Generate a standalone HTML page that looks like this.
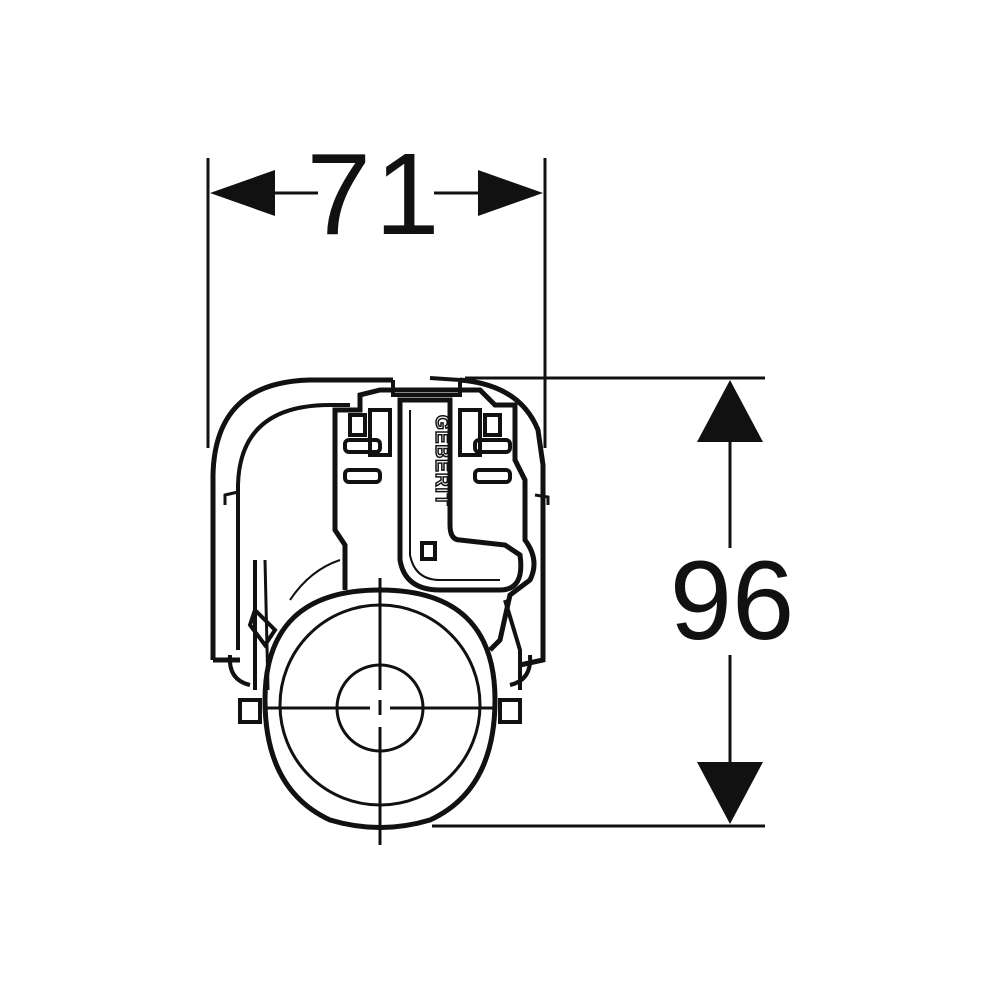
<!DOCTYPE html>
<html><head><style>html,body{margin:0;padding:0;background:#fff}svg{display:block}</style></head>
<body>
<svg width="1000" height="1000" viewBox="0 0 1000 1000" xmlns="http://www.w3.org/2000/svg">
<g stroke="#111" fill="none" stroke-linecap="butt">
<line x1="208" y1="158" x2="208" y2="448" stroke-width="3"/>
<line x1="545" y1="158" x2="545" y2="448" stroke-width="3"/>
<line x1="270" y1="193" x2="318" y2="193" stroke-width="3"/>
<line x1="434" y1="193" x2="482" y2="193" stroke-width="3"/>
<polygon points="210,193 275,170 275,216" fill="#111" stroke="none"/>
<polygon points="543,193 478,170 478,216" fill="#111" stroke="none"/>
<line x1="465" y1="378" x2="765" y2="378" stroke-width="3"/>
<line x1="432" y1="826" x2="765" y2="826" stroke-width="3"/>
<line x1="730" y1="440" x2="730" y2="548" stroke-width="3"/>
<line x1="730" y1="655" x2="730" y2="765" stroke-width="3"/>
<polygon points="730,380 697,442 763,442" fill="#111" stroke="none"/>
<polygon points="730,824 697,762 763,762" fill="#111" stroke="none"/>

<path d="M213,660 L213,475 Q215,382 310,380 L393,380" stroke-width="5"/>
<path d="M238,650 L238,485 Q240,405 330,405 L350,405" stroke-width="4"/>
<path d="M213,660 L240,660" stroke-width="5"/>
<path d="M393,380 L393,395 L460,395 L460,380 L430,378" stroke-width="4"/>
<path d="M460,380 Q520,385 538,430 L543,465 L543,660 L520,665" stroke-width="5"/>
<path d="M225,505 L225,495 L238,492" stroke-width="3"/>
<path d="M535,495 L548,497 L548,505" stroke-width="3"/>
<rect x="240" y="700" width="20" height="22" stroke-width="4"/>
<rect x="500" y="700" width="20" height="22" stroke-width="4"/>
<path d="M230,655 Q228,680 250,685" stroke-width="4"/>
<path d="M530,655 Q532,680 510,685" stroke-width="4"/>
<path d="M335,455 L335,410 L360,410 L360,395 L380,390 L480,390 L495,405 L515,405 L515,460 L525,480 L525,540 Q540,560 530,580 L510,595 L500,640 L490,650" stroke-width="5"/>
<path d="M335,455 L335,530 L345,545 L345,590" stroke-width="5"/>
<path d="M400,400 L400,560 Q405,590 440,590 L500,590 Q525,590 520,555 L505,545 L460,540 Q450,540 450,525 L450,400 Z" stroke-width="5"/>
<path d="M410,410 L410,555 Q415,580 440,580 L500,580" stroke-width="2"/>
<g stroke-width="4">
<rect x="345" y="440" width="35" height="12" rx="4"/>
<rect x="345" y="470" width="35" height="12" rx="4"/>
<rect x="475" y="440" width="35" height="12" rx="4"/>
<rect x="475" y="470" width="35" height="12" rx="4"/>
<rect x="350" y="415" width="15" height="20"/>
<rect x="370" y="410" width="20" height="45"/>
<rect x="460" y="410" width="20" height="45"/>
<rect x="485" y="415" width="15" height="20"/>
<rect x="422" y="543" width="13" height="16"/>
</g>
<text x="0" y="0" transform="translate(436,415) rotate(90)" font-family="Liberation Sans, sans-serif" font-size="19" font-weight="bold" fill="none" stroke="#111" stroke-width="1.5" letter-spacing="1">GEBERIT</text>
<path d="M255,560 L255,690" stroke-width="4"/>
<path d="M265,560 L268,690" stroke-width="3"/>
<path d="M255,610 L275,630 L265,645 L250,625 Z" stroke-width="4"/>
<path d="M290,600 Q310,570 340,560" stroke-width="2"/>
<path d="M505,600 L520,650 L520,690" stroke-width="4"/>
<path d="M265,700 Q265,590 380,590 Q495,590 495,700 Q495,790 430,820 Q380,835 330,820 Q265,790 265,700 Z" stroke-width="5"/>
<circle cx="380" cy="705" r="100" stroke-width="3"/>
<circle cx="380" cy="708" r="43" stroke-width="3"/>
<line x1="380" y1="578" x2="380" y2="690" stroke-width="3"/>
<line x1="380" y1="727" x2="380" y2="845" stroke-width="3"/>
<line x1="267" y1="708" x2="370" y2="708" stroke-width="3"/>
<line x1="390" y1="708" x2="493" y2="708" stroke-width="3"/>
<line x1="380" y1="700" x2="380" y2="715" stroke-width="3"/>
</g>
<text x="375" y="234" text-anchor="middle" font-family="Liberation Sans, sans-serif" font-size="116" fill="#111" letter-spacing="4">71</text>
<text x="732" y="639" text-anchor="middle" font-family="Liberation Sans, sans-serif" font-size="112" fill="#111">96</text>
</svg>
</body></html>
